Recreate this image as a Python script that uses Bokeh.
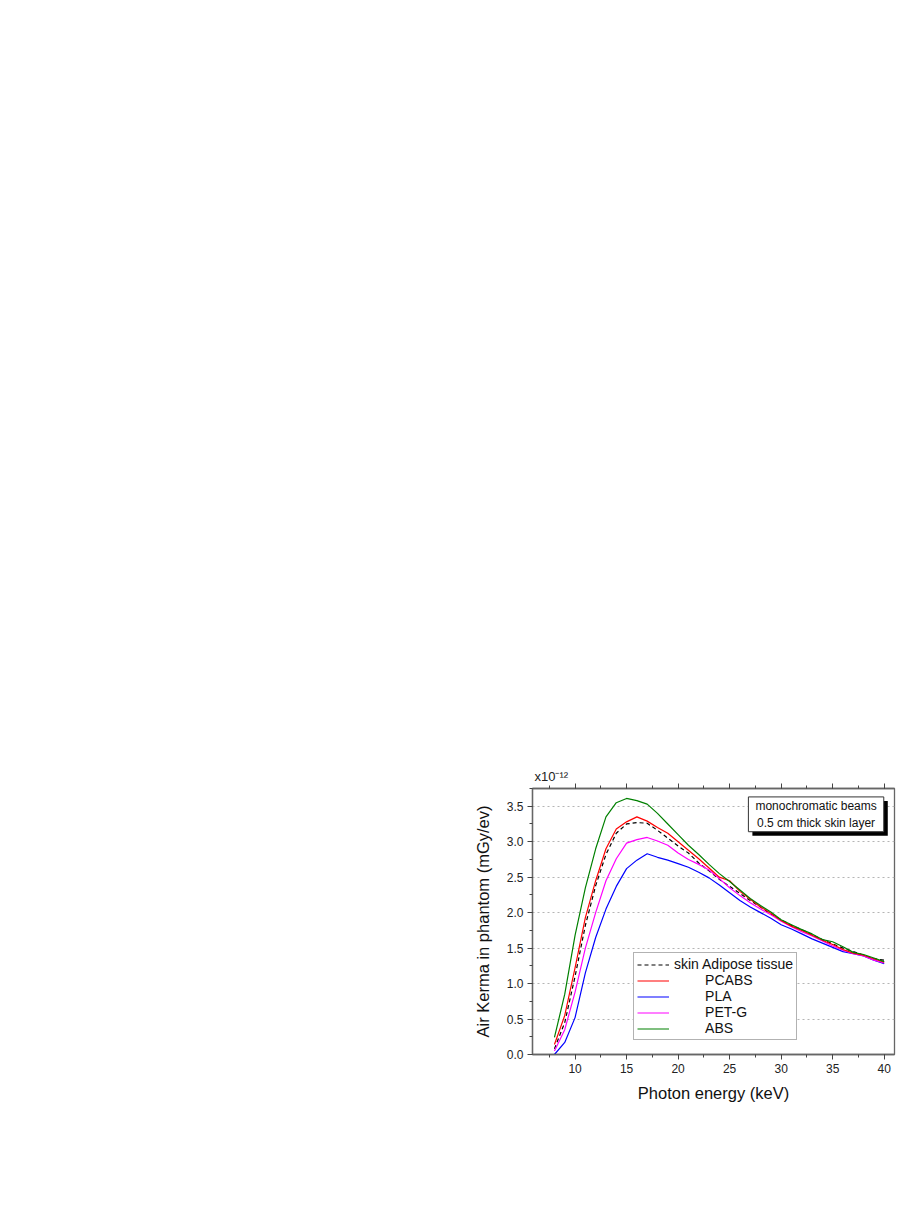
from bokeh.plotting import figure
from bokeh.models import (Range1d, LinearAxis, SingleIntervalTicker, PrintfTickFormatter,
                          CustomJSTickFormatter, Label, Legend, LegendItem)
from bokeh.embed import file_html
from bokeh.resources import INLINE

# ---------------- data ----------------
energy_kev = list(range(8, 41))

adipose = [0.08, 0.45, 1.10, 1.82, 2.38, 2.82, 3.12, 3.25, 3.27, 3.26, 3.16, 3.05, 2.94,
           2.84, 2.70, 2.59, 2.47, 2.37, 2.27, 2.17, 2.08, 1.98, 1.90, 1.82, 1.76, 1.69,
           1.62, 1.56, 1.50, 1.45, 1.40, 1.35, 1.33]
pcabs = [0.14, 0.55, 1.22, 1.93, 2.45, 2.90, 3.18, 3.28, 3.35, 3.29, 3.20, 3.12, 3.00,
         2.88, 2.76, 2.63, 2.50, 2.45, 2.30, 2.19, 2.08, 1.99, 1.89, 1.81, 1.75, 1.68,
         1.61, 1.55, 1.48, 1.43, 1.40, 1.35, 1.30]
pla = [0.00, 0.17, 0.52, 1.15, 1.65, 2.05, 2.37, 2.62, 2.74, 2.83, 2.78, 2.74, 2.69,
       2.64, 2.57, 2.49, 2.39, 2.28, 2.17, 2.08, 2.00, 1.92, 1.83, 1.77, 1.70, 1.63,
       1.57, 1.51, 1.45, 1.42, 1.39, 1.33, 1.28]
petg = [0.05, 0.35, 0.88, 1.50, 2.00, 2.45, 2.76, 2.98, 3.03, 3.06, 3.01, 2.95, 2.84,
        2.75, 2.68, 2.60, 2.48, 2.35, 2.24, 2.14, 2.05, 1.97, 1.88, 1.80, 1.73, 1.67,
        1.60, 1.53, 1.47, 1.42, 1.39, 1.33, 1.29]
abs_ = [0.24, 0.85, 1.68, 2.35, 2.90, 3.35, 3.55, 3.61, 3.58, 3.53, 3.40, 3.25, 3.10,
        2.95, 2.82, 2.68, 2.55, 2.44, 2.32, 2.20, 2.10, 2.01, 1.90, 1.83, 1.76, 1.70,
        1.62, 1.59, 1.52, 1.44, 1.41, 1.36, 1.31]

series_names = ["skin Adipose tissue", "PCABS", "PLA", "PET-G", "ABS"]
x_label = "Photon energy (keV)"
y_label = "Air Kerma in phantom (mGy/ev)"
multiplier = "x10\u207b\u00b9\u00b2"
box_text = "monochromatic beams\n0.5 cm thick skin layer"

FONT = "Liberation Sans"

p = figure(width=896, height=1105, output_backend="svg", toolbar_location=None,
           title=multiplier,
           x_range=Range1d(5.87, 41.0), y_range=Range1d(0, 3.75),
           min_border_left=532, min_border_right=2, min_border_top=788,
           min_border_bottom=51, background_fill_color="white",
           border_fill_color="white", outline_line_color="#666666",
           outline_line_width=1.3)

p.title.align = "left"
p.title.text_font = FONT
p.title.text_font_size = "13px"
p.title.text_font_style = "normal"
p.title.text_color = "#222222"
p.title.offset = 2
p.title.standoff = 0

xt = SingleIntervalTicker(interval=5, num_minor_ticks=2)
yt = SingleIntervalTicker(interval=0.5, num_minor_ticks=2)

for ax in [p.xaxis[0], p.yaxis[0]]:
    ax.axis_line_color = "#666666"
    ax.axis_line_width = 1.3
    ax.major_tick_line_color = "#444444"
    ax.minor_tick_line_color = "#444444"
    ax.major_tick_in = 0
    ax.major_tick_out = 5
    ax.minor_tick_in = 0
    ax.minor_tick_out = 3
    ax.major_label_text_font = FONT
    ax.major_label_text_font_size = "12px"
    ax.major_label_text_color = "#222222"
    ax.major_label_standoff = 4
    ax.axis_label_text_font = FONT
    ax.axis_label_text_font_size = "16.5px"
    ax.axis_label_text_font_style = "normal"
    ax.axis_label_text_color = "#111111"

p.xaxis[0].ticker = xt
p.yaxis[0].ticker = yt
p.yaxis[0].formatter = PrintfTickFormatter(format="%.1f")
p.xaxis[0].axis_label = x_label
p.yaxis[0].axis_label = y_label
p.xaxis[0].axis_label_standoff = 8
p.yaxis[0].axis_label_standoff = 12

top = LinearAxis(ticker=SingleIntervalTicker(interval=5, num_minor_ticks=2),
                 formatter=CustomJSTickFormatter(code="return ''"),
                 major_label_text_font_size="1px", axis_line_color="#666666",
                 axis_line_width=1.3, major_tick_line_color="#444444",
                 minor_tick_line_color="#444444", major_tick_in=0, major_tick_out=5,
                 minor_tick_in=0, minor_tick_out=3, major_label_standoff=0)
p.add_layout(top, "above")

p.xgrid.visible = False
p.ygrid.ticker = yt
p.ygrid.grid_line_color = "#b5b5b5"
p.ygrid.grid_line_dash = "2 3"
p.ygrid.grid_line_width = 1

r_ad = p.line(energy_kev, adipose, line_color="black", line_dash="4 3", line_width=1.2)
r_pl = p.line(energy_kev, pla, line_color="#0000ff", line_width=1.2)
r_pe = p.line(energy_kev, petg, line_color="#ff00ff", line_width=1.2)
r_pc = p.line(energy_kev, pcabs, line_color="#ff0000", line_width=1.2)
r_ab = p.line(energy_kev, abs_, line_color="#008000", line_width=1.2)

pad = "\u00a0" * 8
items = [LegendItem(label=series_names[0], renderers=[r_ad]),
         LegendItem(label=pad + series_names[1], renderers=[r_pc]),
         LegendItem(label=pad + series_names[2], renderers=[r_pl]),
         LegendItem(label=pad + series_names[3], renderers=[r_pe]),
         LegendItem(label=pad + series_names[4], renderers=[r_ab])]
legend = Legend(items=items, location=(101, 14), orientation="vertical",
                label_text_font=FONT, label_text_font_size="14px",
                label_text_color="#111111", glyph_width=32, glyph_height=15,
                label_height=15, label_standoff=5, spacing=0, padding=3, margin=0,
                border_line_color="#666666", border_line_width=1,
                background_fill_color="white", background_fill_alpha=1)
p.add_layout(legend)

# annotation box with drop shadow
bx, by = 33.39, 3.386
shadow = Label(x=bx, y=by, x_offset=4, y_offset=-4, text=box_text,
               text_font=FONT, text_font_size="12px", text_color="black",
               text_align="center", text_baseline="middle",
               background_fill_color="black", background_fill_alpha=1,
               padding={"left": 7, "right": 7, "top": 2, "bottom": 2})
box = Label(x=bx, y=by, text=box_text,
            text_font=FONT, text_font_size="12px", text_color="#111111",
            text_align="center", text_baseline="middle",
            background_fill_color="white", background_fill_alpha=1,
            border_line_color="#333333", border_line_width=1,
            padding={"left": 7, "right": 7, "top": 2, "bottom": 2})
p.add_layout(shadow)
p.add_layout(box)

open("out.html", "w").write(file_html(p, INLINE))
